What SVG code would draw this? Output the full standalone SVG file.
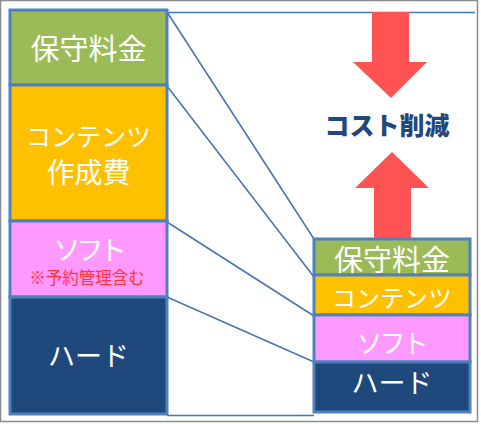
<svg xmlns="http://www.w3.org/2000/svg" width="481" height="424" viewBox="0 0 481 424">
<style>
.box{stroke:#4F81BD;stroke-width:3}
.t{font-family:"Noto Sans CJK JP","Noto Sans",sans-serif;fill:#fff;text-anchor:middle;dominant-baseline:central}
.c{stroke:#4A76B0;stroke-width:1.6;fill:none}
</style>
<rect x="0.5" y="0.5" width="477" height="421" fill="#fff" stroke="#8c8c8c" stroke-width="1.5"/>
<g id="connectors">
<path class="c" d="M167,12.5 H475 M167,415.5 H314 M167,12 L314,239 M167,86 L314,277 M167,222 L314,316 M167,297 L314,362"/>
</g>
<g id="arrow-down">
<polygon points="372,12 409,12 409,62 427,62 391,98 353,62 372,62" fill="#FF5353"/>
</g>
<g id="arrow-up">
<polygon points="374,239 411,239 411,188 429,188 392,152 355,188 374,188" fill="#FF5353"/>
</g>
<g id="label-cost">
<text x="387" y="124" class="t" style="fill:#1F497D;font-weight:900;font-size:25px">コスト削減</text>
</g>
<g id="left-hoshu">
<rect class="box" x="10" y="10" width="157" height="75" fill="#9BBB59"/>
<text class="t" x="88.5" y="47" font-size="29">保守料金</text>
</g>
<g id="left-contents">
<rect class="box" x="10" y="85" width="157" height="136" fill="#FFC000"/>
<text class="t" x="88.5" y="135" font-size="25">コンテンツ</text>
<text class="t" x="88.5" y="171" font-size="28">作成費</text>
</g>
<g id="left-soft">
<rect class="box" x="10" y="221" width="157" height="76" fill="#FF99FF"/>
<text class="t" x="88" y="248" font-size="27" letter-spacing="-4">ソフト</text>
<text class="t" x="87" y="277" font-size="16.5" style="fill:#FF3333">※予約管理含む</text>
</g>
<g id="left-hard">
<rect class="box" x="10" y="297" width="157" height="117" fill="#1F497D"/>
<text class="t" x="88.5" y="354" font-size="27">ハード</text>
</g>
<g id="right-hoshu">
<rect class="box" x="314" y="239" width="156" height="36" fill="#9BBB59"/>
<text class="t" x="392" y="258" font-size="29">保守料金</text>
</g>
<g id="right-contents">
<rect class="box" x="314" y="275" width="156" height="40" fill="#FFC000"/>
<text class="t" x="392" y="296" font-size="24">コンテンツ</text>
</g>
<g id="right-soft">
<rect class="box" x="314" y="315" width="156" height="47" fill="#FF99FF"/>
<text class="t" x="391" y="341" font-size="26" letter-spacing="-3">ソフト</text>
</g>
<g id="right-hard">
<rect class="box" x="314" y="362" width="156" height="50" fill="#1F497D"/>
<text class="t" x="392" y="381" font-size="27">ハード</text>
</g>
</svg>
